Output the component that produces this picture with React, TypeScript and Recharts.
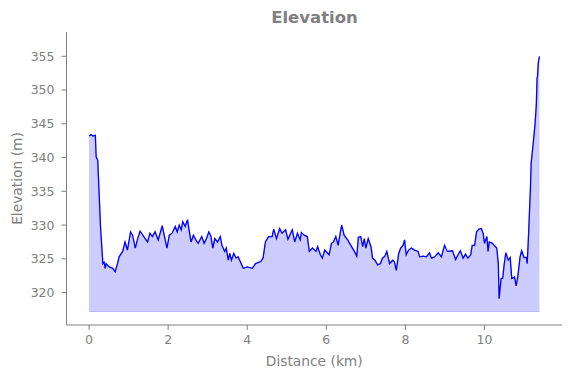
import { ComposedChart, Area, Line, XAxis, YAxis } from "recharts";

// distance along the route (km) and elevation (m)
const distanceKm = [
  0, 0.05, 0.1, 0.16, 0.18, 0.22, 0.29, 0.35, 0.38, 0.41, 0.43, 0.51, 0.6, 0.66, 0.72, 0.76,
  0.85, 0.91, 0.97, 1.05, 1.1, 1.17, 1.23, 1.29, 1.36, 1.42, 1.48, 1.54, 1.6, 1.67, 1.75, 1.85,
  1.92, 1.97, 2.03, 2.1, 2.18, 2.23, 2.28, 2.33, 2.37, 2.43, 2.49, 2.53, 2.58, 2.64, 2.7, 2.76,
  2.85, 2.91, 2.97, 3.03, 3.08, 3.13, 3.18, 3.25, 3.32, 3.36, 3.43, 3.47, 3.52, 3.56, 3.6, 3.66,
  3.72, 3.77, 3.9, 4.0, 4.13, 4.21, 4.34, 4.4, 4.46, 4.54, 4.63, 4.67, 4.74, 4.82, 4.88, 4.97,
  5.03, 5.14, 5.2, 5.27, 5.34, 5.37, 5.44, 5.52, 5.57, 5.65, 5.74, 5.78, 5.85, 5.9, 5.96, 6.07,
  6.13, 6.18, 6.24, 6.3, 6.35, 6.39, 6.45, 6.54, 6.62, 6.71, 6.77, 6.81, 6.87, 6.92, 6.96, 7.0,
  7.06, 7.13, 7.17, 7.23, 7.3, 7.37, 7.42, 7.48, 7.53, 7.6, 7.68, 7.72, 7.77, 7.83, 7.88, 7.94,
  7.98, 8.02, 8.08, 8.15, 8.23, 8.32, 8.36, 8.45, 8.53, 8.61, 8.66, 8.74, 8.83, 8.91, 8.99, 9.06,
  9.19, 9.27, 9.33, 9.39, 9.46, 9.52, 9.58, 9.65, 9.69, 9.75, 9.8, 9.86, 9.92, 9.97, 10.0, 10.06,
  10.09, 10.12, 10.2, 10.26, 10.31, 10.35, 10.37, 10.42, 10.46, 10.5, 10.54, 10.6, 10.65, 10.69,
  10.76, 10.8, 10.84, 10.9, 10.94, 11.0, 11.06, 11.08, 11.11, 11.16, 11.18, 11.24, 11.28, 11.31,
  11.33, 11.34, 11.36, 11.39,
];

const elevationM = [
  343.2, 343.4, 343.2, 343.3, 340.1, 339.6, 329.8, 324.3, 324.5, 323.6, 324.3, 323.8, 323.6, 323.1, 324.3, 325.3,
  326.1, 327.5, 326.3, 329.0, 328.5, 326.6, 328.0, 329.1, 328.5, 328.0, 327.5, 328.8, 328.3, 329.0, 327.8, 329.9,
  328.0, 326.6, 328.5, 328.8, 329.8, 329.0, 330.0, 329.3, 330.5, 329.8, 330.8, 329.3, 327.5, 328.5, 327.8, 327.3,
  328.3, 327.3, 328.0, 329.0, 328.4, 326.6, 328.0, 327.5, 328.3, 327.0, 326.1, 326.6, 324.8, 325.8, 324.8, 325.8,
  325.1, 325.3, 323.6, 323.8, 323.6, 324.3, 324.6, 325.1, 327.5, 328.3, 328.3, 329.4, 328.0, 329.5, 328.8, 329.3,
  327.9, 329.3, 327.5, 328.8, 327.8, 328.9, 328.5, 328.3, 326.1, 326.6, 326.1, 326.8, 325.6, 325.1, 326.3, 325.6,
  327.3, 327.5, 328.3, 327.0, 328.8, 330.0, 328.5, 327.8, 327.0, 326.1, 325.4, 328.2, 328.3, 326.8, 328.0, 326.6,
  328.0, 326.8, 325.1, 324.8, 324.1, 324.3, 325.1, 325.4, 326.1, 324.3, 324.8, 324.6, 323.3, 325.8, 326.6, 327.0,
  327.8, 325.6, 326.3, 326.6, 326.3, 326.1, 325.3, 325.4, 325.3, 325.9, 325.1, 325.3, 325.9, 325.3, 327.0, 326.1,
  326.2, 324.9, 325.6, 326.2, 325.1, 325.7, 325.1, 325.6, 327.0, 327.0, 329.0, 329.4, 329.5, 328.7, 327.3, 328.3,
  326.1, 327.5, 327.3, 326.9, 326.6, 324.3, 319.1, 322.1, 322.1, 324.3, 325.9, 324.8, 325.2, 322.1,
  322.3, 321.0, 322.3, 325.3, 326.2, 325.2, 325.2, 324.3, 328.0, 335.2, 339.2, 342.6, 345.1, 347.8,
  351.8, 352.0, 354.0, 355.0,
];

const fillBase = 317.2;
const xTicks = [0, 2, 4, 6, 8, 10];
const yTicks = [320, 325, 330, 335, 340, 345, 350, 355];

const data = distanceKm.map((km, i) => ({
  km,
  elev: elevationM[i],
  band: [fillBase, elevationM[i]],
}));

const GREY = "#808080";

const XLabel = ({ viewBox }: any) => (
  <text
    x={viewBox.x + viewBox.width / 2}
    y={366}
    textAnchor="middle"
    fill={GREY}
    fontSize={13.8}
    fontFamily="DejaVu Sans"
  >
    Distance (km)
  </text>
);

const YLabel = ({ viewBox }: any) => {
  const cy = viewBox.y + viewBox.height / 2;
  return (
    <text
      x={22}
      y={cy}
      transform={`rotate(-90 22 ${cy})`}
      textAnchor="middle"
      fill={GREY}
      fontSize={13.8}
      fontFamily="DejaVu Sans"
    >
      Elevation (m)
    </text>
  );
};

export default function App() {
  return (
    <div
      style={{
        position: "absolute",
        left: 0,
        top: 0,
        width: 571,
        height: 378,
        background: "#fff",
        fontFamily: "DejaVu Sans",
      }}
    >
      <div
        style={{
          position: "absolute",
          left: 66,
          width: 497,
          top: 8,
          textAlign: "center",
          color: GREY,
          fontWeight: 700,
          fontSize: 16.5,
          lineHeight: "20px",
        }}
      >
        Elevation
      </div>
      <ComposedChart
        width={571}
        height={378}
        data={data}
        margin={{ top: 32, right: 9, left: 0, bottom: 0 }}
      >
        <XAxis
          dataKey="km"
          type="number"
          domain={[-0.57, 11.96]}
          ticks={xTicks}
          height={53}
          stroke={GREY}
          tickSize={5}
          tickMargin={5}
          tick={{ fill: GREY, fontSize: 12.5, fontFamily: "DejaVu Sans" }}
          label={<XLabel />}
        />
        <YAxis
          type="number"
          domain={[315.2, 358.6]}
          ticks={yTicks}
          width={66.5}
          stroke={GREY}
          tickSize={5}
          tickMargin={7}
          allowDataOverflow
          tick={{ fill: GREY, fontSize: 12.5, fontFamily: "DejaVu Sans" }}
          label={<YLabel />}
        />
        <Area
          dataKey="band"
          type="linear"
          fill="#0000ff"
          fillOpacity={0.2}
          stroke="#0000ff"
          strokeOpacity={0.2}
          strokeWidth={1.2}
          isAnimationActive={false}
        />
        <Line
          dataKey="elev"
          type="linear"
          stroke="#0000ff"
          strokeWidth={1.3}
          dot={false}
          isAnimationActive={false}
        />
      </ComposedChart>
    </div>
  );
}
